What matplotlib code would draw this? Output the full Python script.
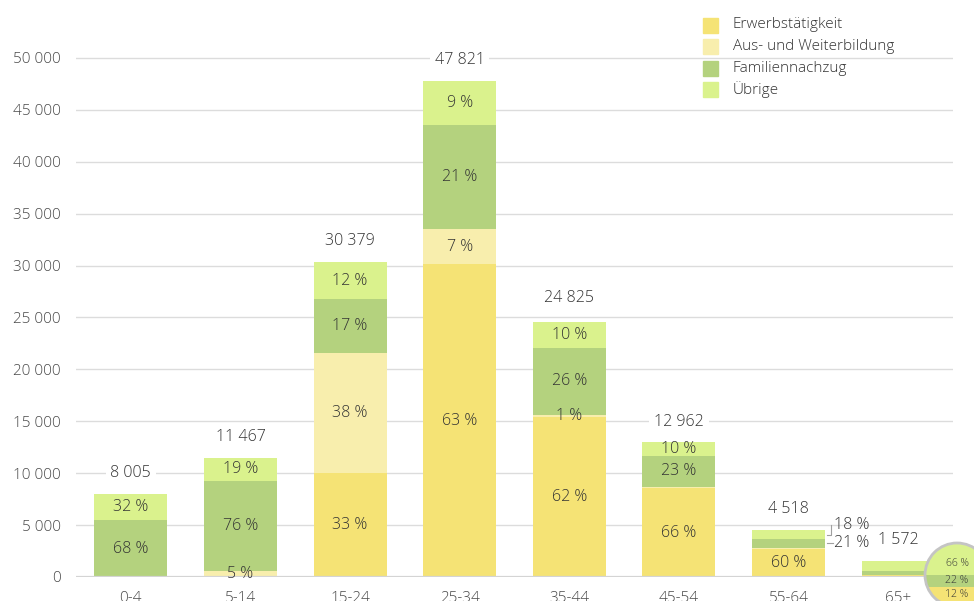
import matplotlib
matplotlib.use("Agg")
import matplotlib.pyplot as plt
from matplotlib.patches import Rectangle, Circle
import numpy as np

plt.rcParams['font.family'] = ['Open Sans', 'DejaVu Sans']
plt.rcParams['font.weight'] = 'light'

categories = ["0-4", "5-14", "15-24", "25-34", "35-44", "45-54", "55-64", "65+"]
totals = [8005, 11467, 30379, 47821, 24825, 12962, 4518, 1572]
series_names = ["Erwerbstätigkeit", "Aus- und Weiterbildung", "Familiennachzug", "Übrige"]
pct_erwerb = [0, 0, 33, 63, 62, 66, 60, 12]
pct_ausbildung = [0, 5, 38, 7, 1, 1, 1, 0]
pct_familie = [68, 76, 17, 21, 26, 23, 21, 22]
pct_uebrige = [32, 19, 12, 9, 10, 10, 18, 66]
colors = ["#F5E375", "#F8EEAD", "#B4D27E", "#DAF28D"]
yticks = [0, 5000, 10000, 15000, 20000, 25000, 30000, 35000, 40000, 45000, 50000]

W, H = 974, 601
fig = plt.figure(figsize=(W / 100, H / 100), dpi=100)
ax = fig.add_axes([76 / W, 1 - 577 / H, (953 - 76) / W, (577 - 6) / H])

x = np.arange(len(categories))
pcts = [pct_erwerb, pct_ausbildung, pct_familie, pct_uebrige]
tot = np.array(totals, dtype=float)
bottom = np.zeros(len(categories))
width = 0.665
txt = "#333333"
segs = []
for name, p, c in zip(series_names, pcts, colors):
    vals = tot * np.array(p) / 100.0
    ax.bar(x, vals, width, bottom=bottom, color=c, label=name, zorder=3)
    segs.append((bottom.copy(), vals.copy(), p))
    bottom += vals

ax.set_xlim(-0.5, len(categories) - 0.5)
ax.set_ylim(0, 55000)
ax.set_yticks(yticks)
ax.set_yticklabels([f"{v:,}".replace(",", " ") for v in yticks])
ax.set_xticks(x)
ax.set_xticklabels(categories)
for s in ax.spines.values():
    s.set_visible(False)
ax.tick_params(axis='both', length=0, labelsize=11, colors="#4a4a4a")
ax.tick_params(axis='y', pad=11)
ax.tick_params(axis='x', pad=10)
for v in yticks[1:]:
    ax.axhline(v, color="#dcdcdc", lw=1.0, zorder=1)
ax.axhline(0, color="#d4d4d4", lw=1.6, zorder=4)

# segment labels
for si, (b, v, p) in enumerate(segs):
    for i in range(len(categories)):
        if i == 7:
            continue
        if i == 6 and si in (2, 3):
            continue
        if v[i] >= 200:
            ax.text(x[i], b[i] + v[i] / 2, f"{p[i]} %", ha='center', va='center',
                    fontsize=11.5, color=txt, zorder=5)

# 55-64 outside labels
i = 6
b_f, v_f, p_f = segs[2]
b_u, v_u, p_u = segs[3]
xr = x[i] + width / 2
ax.plot([xr + 0.02, xr + 0.055, xr + 0.055], [b_u[i] + v_u[i] * 0.45] * 2 + [b_u[i] + v_u[i] * 1.6],
        color="#a0a0a0", lw=0.8, zorder=5, clip_on=False)
ax.text(xr + 0.08, b_u[i] + v_u[i] * 1.6, f"{p_u[i]} %", ha='left', va='center', fontsize=11.5, color=txt)
ax.plot([xr + 0.02, xr + 0.07], [b_f[i] + v_f[i] / 2] * 2, color="#a0a0a0", lw=0.8, zorder=5)
ax.text(xr + 0.08, b_f[i] + v_f[i] / 2, f"{p_f[i]} %", ha='left', va='center', fontsize=11.5, color=txt)

# totals
for i in range(len(categories)):
    ax.annotate(f"{totals[i]:,}".replace(",", " "), (x[i], totals[i]), xytext=(0, 15),
                textcoords='offset points', ha='center', va='center', fontsize=11.5, color=txt,
                bbox=dict(boxstyle='square,pad=0.3', fc='white', ec='none'), zorder=6)

# legend (manual)
for k, (name, c) in enumerate(zip(series_names, colors)):
    yc = 25 + k * 21.5
    fig.patches.append(Rectangle(((703) / W, 1 - (yc + 7.5) / H), 15 / W, 15 / H,
                                 transform=fig.transFigure, color=c, figure=fig))
    fig.text(733 / W, 1 - yc / H, name, ha='left', va='center', fontsize=11, color=txt)

# magnifier bubble for 65+
ylo, yhi = -386, 1454
axi = fig.add_axes([925 / W, 1 - 607 / H, 64 / W, 64 / H])
axi.set_xlim(-0.5, 0.5)
axi.set_ylim(ylo, yhi)
axi.axis('off')
clip = Circle((0.5, 0.5), 0.5, transform=axi.transAxes)
i = 7
for k, ((b, v, p), c) in enumerate(zip(segs, colors)):
    b0 = b[i] if k > 0 else ylo
    h = v[i] + (b[i] - b0)
    r = axi.bar([0], [h], 1.2, bottom=[b0], color=c)
    for patch in r:
        patch.set_clip_path(clip)
upp = (yhi - ylo) / 64.0
lab_pos = [segs[0][0][i] + segs[0][1][i] - 7 * upp,
           segs[2][0][i] + segs[2][1][i] / 2,
           yhi - 20 * upp]
for (b, v, p), yp in zip([segs[0], segs[2], segs[3]], lab_pos):
    axi.text(0.0, yp, f"{p[i]} %", ha='center', va='center', fontsize=7.5, color=txt)
axi.add_patch(Circle((0.5, 0.5), 0.5, transform=axi.transAxes, fill=False,
                     ec="#c4c4c4", lw=2.0, clip_on=False))

fig.savefig("out.png", dpi=100)
